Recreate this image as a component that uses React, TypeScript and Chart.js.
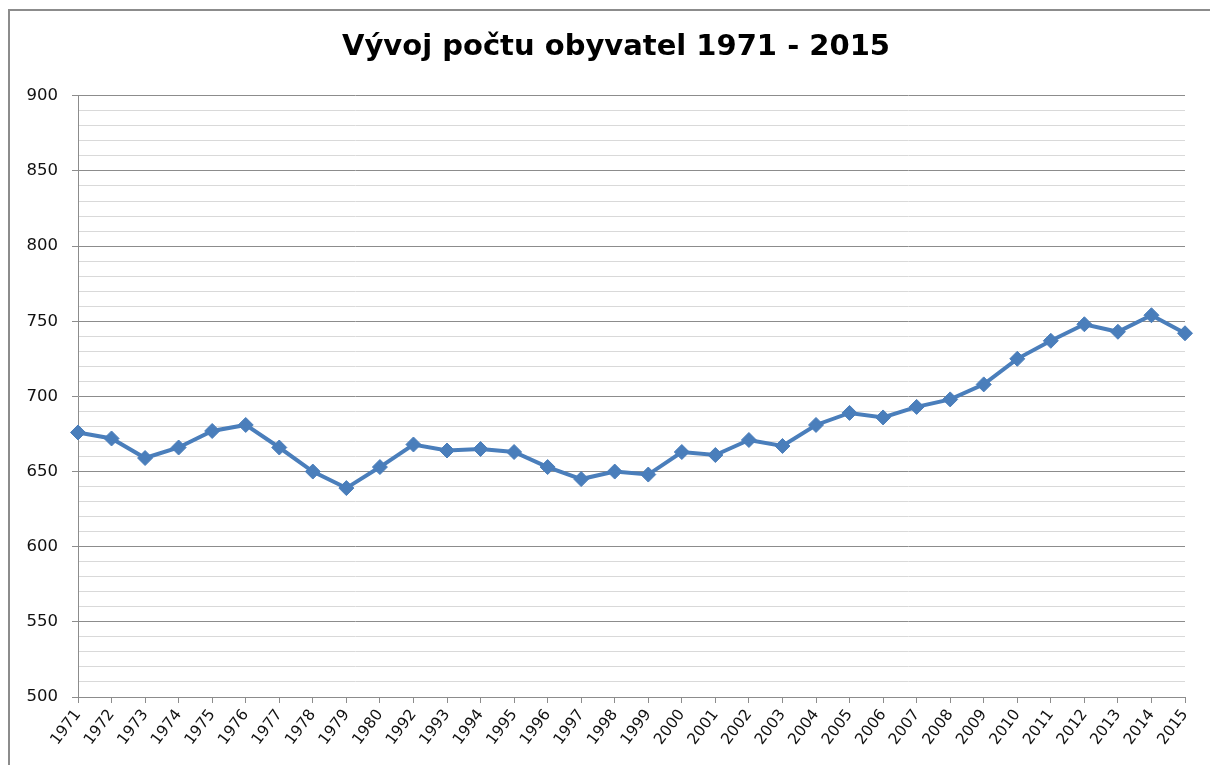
import React, { useEffect, useRef } from "react";
import { Chart, registerables } from "chart.js";

Chart.register(...registerables);

const years: string[] = [
  "1971", "1972", "1973", "1974", "1975", "1976", "1977", "1978", "1979", "1980",
  "1992", "1993", "1994", "1995", "1996", "1997", "1998", "1999", "2000", "2001",
  "2002", "2003", "2004", "2005", "2006", "2007", "2008", "2009", "2010", "2011",
  "2012", "2013", "2014", "2015",
];

const population: number[] = [
  676, 672, 659, 666, 677, 681, 666, 650, 639, 653,
  668, 664, 665, 663, 653, 645, 650, 648, 663, 661,
  671, 667, 681, 689, 686, 693, 698, 708, 725, 737,
  748, 743, 754, 742,
];

const titleText = "Vývoj počtu obyvatel 1971 - 2015";
const yMin = 500;
const yMax = 900;
const yMinorStep = 10;
const yMajorStep = 50;

// Shift title block so it is centred where the reference centres it.
const titleShift = {
  id: "titleShift",
  afterLayout(chart: any) {
    const t = chart.titleBlock;
    if (t) {
      t.left = t.left + 37;
    }
  },
};

export default function App() {
  const canvasRef = useRef<HTMLCanvasElement | null>(null);

  useEffect(() => {
    const canvas = canvasRef.current;
    if (!canvas) return;
    const chart = new Chart(canvas, {
      type: "line",
      data: {
        labels: years,
        datasets: [
          {
            data: population,
            borderColor: "#4a7ebb",
            backgroundColor: "#4a7ebb",
            borderWidth: 4,
            tension: 0,
            pointStyle: "rectRot",
            pointRadius: 7.5,
            pointHoverRadius: 7.5,
            pointBackgroundColor: "#4a7ebb",
            pointBorderColor: "#4a7ebb",
            pointBorderWidth: 1,
          },
        ],
      },
      plugins: [titleShift],
      options: {
        responsive: false,
        animation: false,
        layout: { padding: { left: 10, right: 25, top: 0, bottom: 0 } },
        plugins: {
          legend: { display: false },
          tooltip: { enabled: false },
          title: {
            display: true,
            text: titleText,
            color: "#000",
            font: { family: "'DejaVu Sans', sans-serif", size: 29, weight: "bold", lineHeight: 1.2 },
            padding: { top: 30, bottom: 31 },
          },
        },
        scales: {
          x: {
            type: "category",
            offset: false,
            afterFit: (scale: any) => {
              scale.height = 68;
            },
            grid: {
              drawOnChartArea: false,
              drawTicks: true,
              tickLength: 6,
              color: "#8c8c8c",
            },
            border: { display: true, color: "#8c8c8c" },
            ticks: {
              autoSkip: false,
              maxRotation: 53,
              minRotation: 53,
              color: "#111",
              padding: 3,
              font: { family: "'DejaVu Sans', sans-serif", size: 15.5 },
            },
          },
          y: {
            min: yMin,
            max: yMax,
            afterFit: (scale: any) => {
              scale.width = 68;
            },
            grid: {
              color: (ctx: any) =>
                ctx.tick && ctx.tick.value % yMajorStep === 0 ? "#8c8c8c" : "#d9d9d9",
              tickColor: (ctx: any) =>
                ctx.tick && ctx.tick.value % yMajorStep === 0 ? "#8c8c8c" : "rgba(0,0,0,0)",
              tickLength: 6,
              lineWidth: 1,
            },
            border: { display: true, color: "#8c8c8c" },
            ticks: {
              stepSize: yMinorStep,
              maxTicksLimit: 100,
              autoSkip: false,
              padding: 14,
              color: "#111",
              font: { family: "'DejaVu Sans', sans-serif", size: 16.5 },
              callback: (v: any) => (Number(v) % yMajorStep === 0 ? String(v) : ""),
            },
          },
        },
      },
    } as any);
    return () => chart.destroy();
  }, []);

  return (
    <div
      style={{
        position: "fixed",
        left: 0,
        top: 0,
        width: 1210,
        height: 765,
        overflow: "hidden",
        background: "#fff",
      }}
    >
      <canvas
        ref={canvasRef}
        width={1210}
        height={765}
        style={{ position: "absolute", left: 0, top: 0, width: 1210, height: 765 }}
      />
      <div
        style={{
          position: "absolute",
          left: 8,
          top: 9,
          width: 1300,
          height: 900,
          border: "2px solid #8c8c8c",
          pointerEvents: "none",
        }}
      />
    </div>
  );
}
